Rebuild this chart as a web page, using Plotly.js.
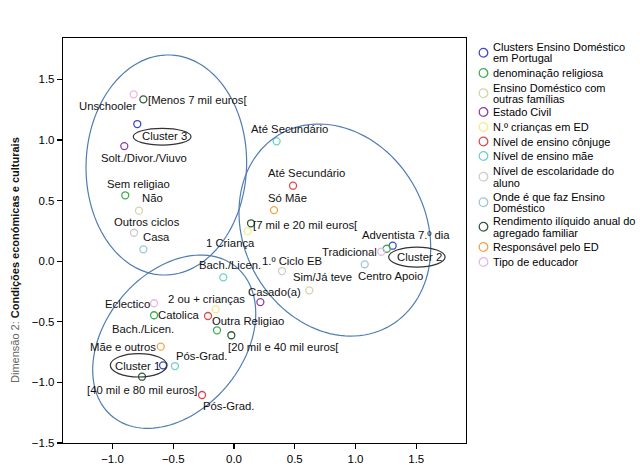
<!DOCTYPE html>
<html>
<head>
<meta charset="utf-8">
<script src="https://cdn.plot.ly/plotly-3.0.1.min.js"></script>
<style>html,body{margin:0;padding:0;background:#fff;}#chart{width:640px;height:466px;}</style>
</head>
<body>
<div id="chart"></div>
<script>
// ---------- data ----------
const seriesNames = [
  'Clusters Ensino Doméstico<br>em Portugal',
  'denominação religiosa',
  'Ensino Doméstico com<br>outras famílias',
  'Estado Civil',
  'N.º crianças em ED',
  'Nível de ensino cônjuge',
  'Nível de ensino mãe',
  'Nível de escolaridade do<br>aluno',
  'Onde é que faz Ensino<br>Doméstico',
  'Rendimento ilíquido anual do<br>agregado familiar',
  'Responsável pelo ED',
  'Tipo de educador'
];

const clusterLabels = ['Cluster 3', 'Cluster 2', 'Cluster 1'];
const clusterX = [-0.796, 1.306, -0.584];
const clusterY = [1.132, 0.128, -0.859];

const religionLabels = ['Sem religiao', 'Catolica', 'Outra Religiao', 'Adventista 7.º dia'];
const religionX = [-0.895, -0.658, -0.140, 1.257];
const religionY = [0.544, -0.446, -0.570, 0.103];

const familiesLabels = ['Não', 'Sim/Já teve'];
const familiesX = [-0.782, 0.620];
const familiesY = [0.417, -0.240];

const civilLabels = ['Solt./Divor./Viuvo', 'Casado(a)'];
const civilX = [-0.903, 0.217];
const civilY = [0.950, -0.337];

const childrenLabels = ['1 Criança', '2 ou + crianças'];
const childrenX = [0.112, -0.151];
const childrenY = [0.248, -0.397];

const spouseLabels = ['Até Secundário', 'Bach./Licen.', 'Pós-Grad.'];
const spouseX = [0.486, -0.214, -0.263];
const spouseY = [0.623, -0.452, -1.104];

const motherLabels = ['Até Secundário', 'Bach./Licen.', 'Pós-Grad.'];
const motherX = [0.351, -0.088, -0.486];
const motherY = [0.989, -0.133, -0.865];

const studentLabels = ['Outros ciclos', '1.º Ciclo EB'];
const studentX = [-0.823, 0.395];
const studentY = [0.235, -0.081];

const placeLabels = ['Casa', 'Centro Apoio'];
const placeX = [-0.746, 1.076];
const placeY = [0.098, -0.026];

const incomeLabels = ['[Menos 7 mil euros[', '[7 mil e 20 mil euros[', '[20 mil e 40 mil euros[', '[40 mil e 80 mil euros]'];
const incomeX = [-0.746, 0.140, -0.022, -0.757];
const incomeY = [1.336, 0.313, -0.611, -0.953];

const responsibleLabels = ['Só Mãe', 'Mãe e outros'];
const responsibleX = [0.329, -0.603];
const responsibleY = [0.422, -0.705];

const educatorLabels = ['Unschooler', 'Tradicional', 'Eclectico'];
const educatorX = [-0.826, 1.212, -0.658];
const educatorY = [1.377, 0.078, -0.347];

const xTickVals = [-1.0, -0.5, 0.0, 0.5, 1.0, 1.5];
const yTickVals = [-1.5, -1.0, -0.5, 0.0, 0.5, 1.0, 1.5];

// ---------- styles / layout helpers ----------
const seriesColors = ['#3d4bc0', '#41ad50', '#d8d2a8', '#8d3fa0', '#f2ec86', '#e2474c',
                      '#6fd0c8', '#cccccc', '#9fc5d6', '#2d5b3e', '#f2a444', '#e8b8e6'];

// label offsets (pixels, screen direction: dx right, dy down) from each point
const labelOffsets = [
  [[27, 12], [26.7, 11.4], [-26, 0.7]],
  [[13.4, -11.6], [25.3, 0], [31.3, -9.3], [18.8, -13.4]],
  [[13.5, -12.7], [12.9, -13.6]],
  [[19.9, 11.7], [13.9, -10]],
  [[-16.9, 11.7], [-9, -10.6]],
  [[13.3, -13], [-65.5, 13.3], [26.5, 11]],
  [[12.8, -12.3], [6.9, -12.3], [27, -10]],
  [[13, -11], [10.2, -10.3]],
  [[12.7, -12], [25.3, 11.7]],
  [[54.5, 0.7], [54.8, 1.7], [52, 11.4], [0.3, 13.3]],
  [[13.8, -12], [-37.4, 0]],
  [[-26.5, 11.7], [-32.1, 0.6], [-26.2, 1]]
];

const series = [
  [clusterLabels, clusterX, clusterY],
  [religionLabels, religionX, religionY],
  [familiesLabels, familiesX, familiesY],
  [civilLabels, civilX, civilY],
  [childrenLabels, childrenX, childrenY],
  [spouseLabels, spouseX, spouseY],
  [motherLabels, motherX, motherY],
  [studentLabels, studentX, studentY],
  [placeLabels, placeX, placeY],
  [incomeLabels, incomeX, incomeY],
  [responsibleLabels, responsibleX, responsibleY],
  [educatorLabels, educatorX, educatorY]
];

const FONT = 'Liberation Sans, Arial, Helvetica, sans-serif';

const traces = series.map((s, k) => ({
  type: 'scatter', mode: 'markers',
  name: seriesNames[k],
  x: s[1], y: s[2], text: s[0],
  marker: { symbol: 'circle-open', size: 7, color: seriesColors[k], line: { width: 1.3, color: seriesColors[k] } },
  hoverinfo: 'text+x+y', showlegend: false
}));

const annotations = [];
series.forEach((s, k) => {
  s[0].forEach((lab, i) => {
    annotations.push({
      x: s[1][i], y: s[2][i], xref: 'x', yref: 'y', text: lab, showarrow: false,
      xanchor: 'center', yanchor: 'middle',
      xshift: labelOffsets[k][i][0], yshift: -labelOffsets[k][i][1],
      font: { family: FONT, size: 11.3, color: '#111' }
    });
  });
});

// plot-area pixel geometry
const L = 63, T = 38, PW = 403, PH = 405;
const px2paperX = p => (p - L) / PW;
const px2paperY = p => (T + PH - p) / PH;

// custom legend (line centres in pixels)
const legendLines = [[47, 58.5], [73], [87.5, 99], [112], [127], [141.5], [156],
                     [171, 182.5], [196.5, 208], [221, 232.5], [247], [262]];
const shapes = [];
seriesNames.forEach((nm, k) => {
  const parts = nm.split('<br>');
  const ys = legendLines[k];
  const cy = (ys[0] + ys[ys.length - 1]) / 2;
  shapes.push({
    type: 'circle', xref: 'paper', yref: 'paper',
    xsizemode: 'pixel', ysizemode: 'pixel',
    xanchor: px2paperX(483.5), yanchor: px2paperY(cy),
    x0: -4.3, x1: 4.3, y0: -4.3, y1: 4.3,
    line: { color: seriesColors[k], width: 1.3 }
  });
  parts.forEach((p, j) => {
    annotations.push({
      xref: 'paper', yref: 'paper', x: px2paperX(490.5), y: px2paperY(ys[j]),
      xanchor: 'left', yanchor: 'middle', showarrow: false, text: p,
      font: { family: FONT, size: 11, color: '#000' }
    });
  });
});

// hand-drawn cluster ellipses (data units): centre, half-width, half-height, covariance term
const bigEllipses = [
  { cx: -0.557, cy: 0.794, w: 0.661, h: 0.908, s: 0.0136 },
  { cx: 0.830, cy: 0.257, w: 0.789, h: 0.875, s: -0.1154 },
  { cx: -0.492, cy: -0.664, w: 0.671, h: 0.715, s: 0.1566 }
];
bigEllipses.forEach(e => {
  const a = e.s / e.w, b = Math.sqrt(e.h * e.h - a * a);
  let d = '';
  for (let i = 0; i <= 120; i++) {
    const t = 2 * Math.PI * i / 120;
    const xx = e.cx + e.w * Math.cos(t);
    const yy = e.cy + a * Math.cos(t) + b * Math.sin(t);
    d += (i === 0 ? 'M' : 'L') + xx.toFixed(4) + ',' + yy.toFixed(4);
  }
  d += 'Z';
  shapes.push({ type: 'path', xref: 'x', yref: 'y', path: d, line: { color: '#4f7db2', width: 1.2 } });
});

// small ellipses round the cluster labels (pixel offsets from each cluster point)
const clusterRings = [[-4, 53.7, 4.3, 21], [-4, 52.4, 1.4, 21.4], [-52.7, 4, -11.7, 11.7]];
clusterRings.forEach((r, i) => {
  shapes.push({
    type: 'circle', xref: 'x', yref: 'y', xsizemode: 'pixel', ysizemode: 'pixel',
    xanchor: clusterX[i], yanchor: clusterY[i],
    x0: r[0], x1: r[1], y0: -r[3], y1: -r[2],
    line: { color: '#333333', width: 1.2 }
  });
});

// y-axis title
annotations.push({
  xref: 'paper', yref: 'paper', x: px2paperX(15), y: px2paperY(260),
  xanchor: 'center', yanchor: 'middle', textangle: -90, showarrow: false,
  text: '<span style="color:#666">Dimensão 2:</span> <b>Condições económicas e culturais</b>',
  font: { family: FONT, size: 11, color: '#111' }
});

const axisCommon = {
  showgrid: false, zeroline: false, showline: true, linecolor: '#000', linewidth: 1.2,
  mirror: true, ticks: 'outside', ticklen: 5, tickwidth: 1.2, tickcolor: '#000',
  tickformat: '.1f', automargin: false,
  tickfont: { family: FONT, size: 11.5, color: '#000' }
};

const layout = {
  width: 640, height: 466,
  margin: { l: L, r: 640 - L - PW, t: T, b: 466 - T - PH },
  paper_bgcolor: '#fff', plot_bgcolor: '#fff',
  showlegend: false,
  xaxis: Object.assign({}, axisCommon, { range: [(63 - 234) / 121.5, (466 - 234) / 121.5], tickvals: xTickVals }),
  yaxis: Object.assign({}, axisCommon, { range: [-1.5, 1.842], tickvals: yTickVals }),
  annotations: annotations,
  shapes: shapes
};

Plotly.newPlot('chart', traces, layout, { displayModeBar: false, staticPlot: true });
</script>
</body>
</html>
